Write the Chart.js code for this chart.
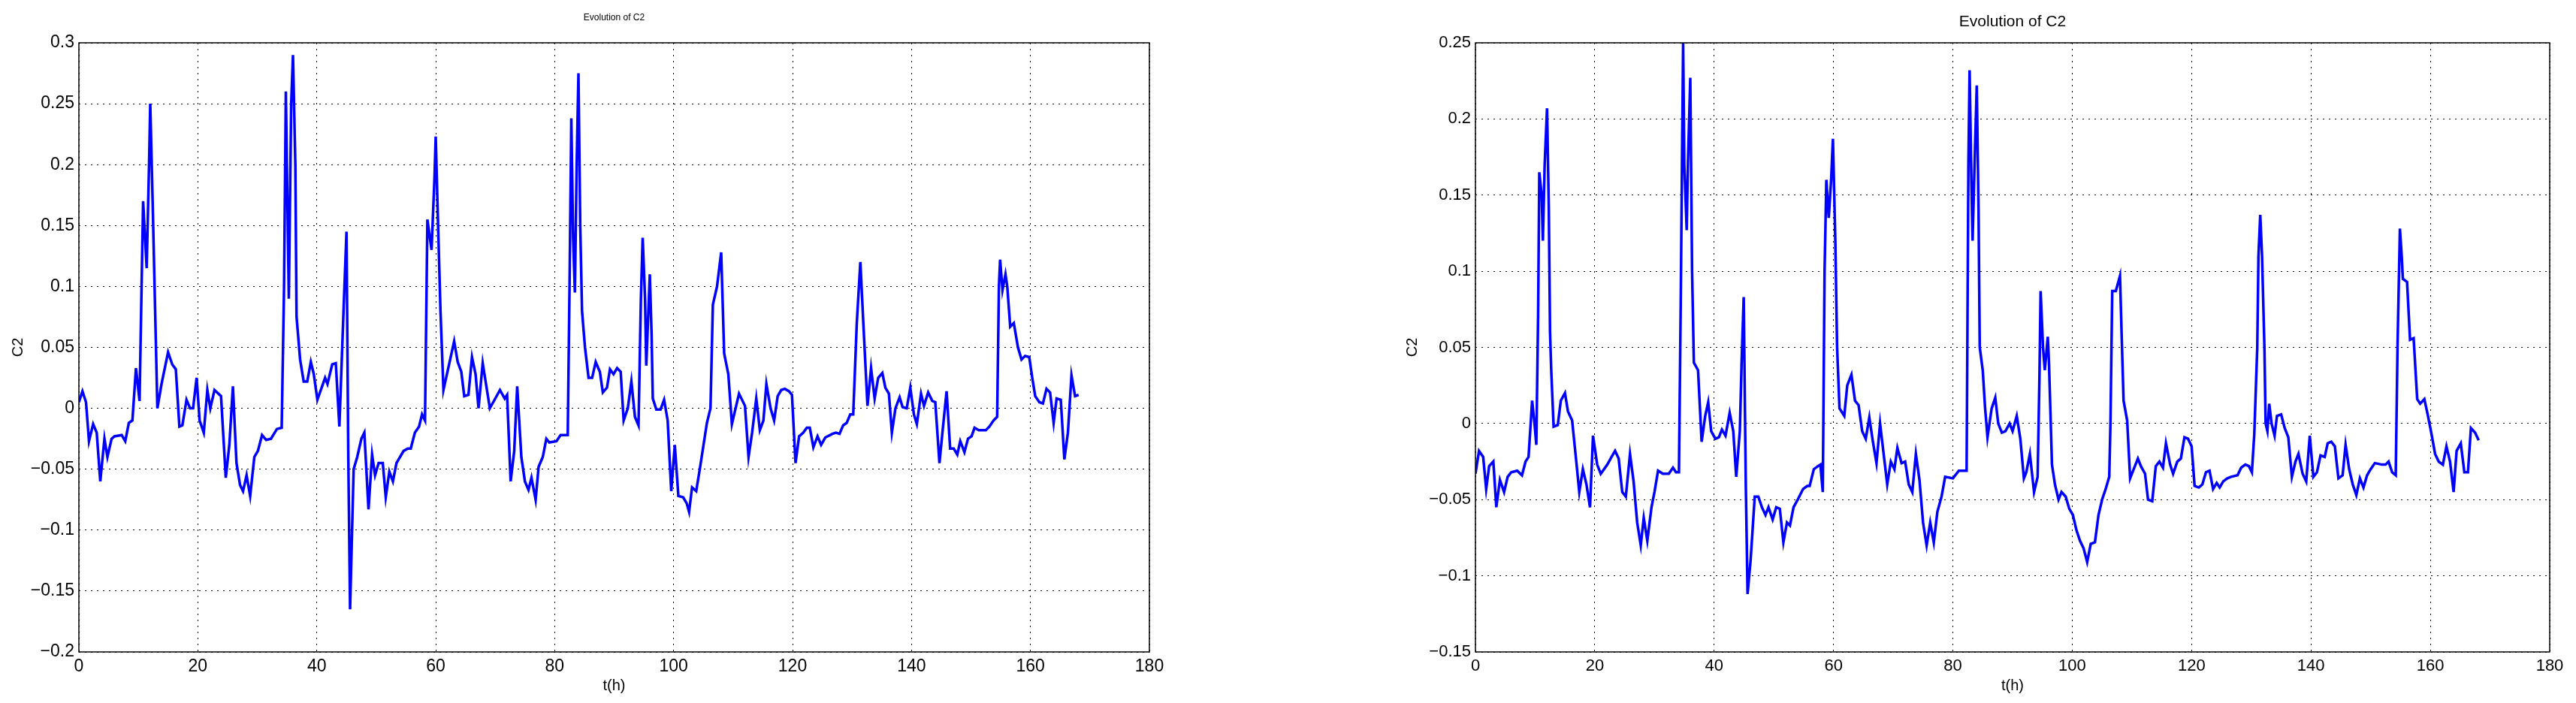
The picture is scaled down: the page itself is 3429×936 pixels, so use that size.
<!DOCTYPE html>
<html><head><meta charset="utf-8">
<script src="https://cdn.jsdelivr.net/npm/chart.js@4"></script>
<style>html,body{margin:0;padding:0;background:#fff;width:3429px;height:936px;overflow:hidden}
.w{position:absolute;top:0;height:936px}</style></head><body>
<div class="w" style="left:0;width:1714px"><canvas id="c1"></canvas></div>
<div class="w" style="left:1714px;width:1715px"><canvas id="c2"></canvas></div>
<script>
const xTicks=[0,20,40,60,80,100,120,140,160,180];
const leftYTicks=[-0.2,-0.15,-0.1,-0.05,0,0.05,0.1,0.15,0.2,0.25,0.3];
const rightYTicks=[-0.15,-0.1,-0.05,0,0.05,0.1,0.15,0.2,0.25];
const tLeft=[0,0.6,1.2,1.7,2.4,3.0,3.6,4.3,4.8,5.5,6,7.2,7.8,8.4,9,9.6,10.2,10.8,11.4,11.8,12,12.4,13.2,13.9,15,15.7,16.3,16.9,17.4,18.1,18.7,19.2,19.8,20.3,21,21.6,22.1,22.8,23.9,24.7,25.3,25.9,26.5,27.1,27.6,28.2,28.8,29.5,30.1,30.8,31.5,32.3,33.3,34.1,34.5,34.8,35.3,35.7,36,36.4,36.6,37.2,37.8,38.4,39,39.5,40.1,41.4,41.8,42.6,43.2,43.8,44.5,45,45.3,45.6,46.2,46.8,47.5,48,48.7,49.3,49.8,50.4,51.1,51.6,52.2,52.8,53.4,54.6,55.3,55.8,56.5,57.2,57.7,58.2,58.6,59.3,59.8,60,60.4,60.8,61.3,62.2,63.1,63.7,64.3,64.8,65.5,66.1,66.7,67.2,67.9,69.1,69.9,70.8,71.6,72,72.6,73.2,73.7,74.4,75,75.6,76.1,76.8,77.3,78,78.6,79.1,80.3,81,82.2,82.5,82.8,83.1,83.4,83.7,84,84.3,84.6,85.1,85.7,86.3,86.9,87.6,88.1,88.8,89.3,89.9,90.5,91.1,91.6,92.3,92.9,93.5,94.1,94.5,94.8,95.2,95.4,96,96.3,96.5,97.1,97.8,98.4,99,99.6,100.2,100.8,101.6,102.2,102.6,103.1,103.8,104.4,105.6,106.2,106.6,107.3,108,108.5,109.2,109.8,111,112,112.6,113.2,113.9,114.5,115.1,115.6,116.3,116.9,117.5,118.1,118.7,119.4,119.9,120.5,121.1,121.8,122.4,122.9,123.5,124.2,124.8,125.5,126.7,127.3,127.9,128.5,129.1,129.7,130.2,130.8,131.4,131.9,132.6,133.2,133.8,134.4,135.1,135.6,136.2,136.7,137.3,138,138.5,139.2,139.8,140.4,140.9,141.6,142.1,142.8,143.5,144,144.7,145.2,145.9,146.5,147.1,147.7,148.2,148.9,149.5,150.1,150.6,151.3,152.5,153.1,153.8,154.4,154.7,154.9,155.3,155.8,156.1,156.6,157.2,157.9,158.5,159.1,159.8,160.3,160.8,161.5,162.1,162.7,163.3,163.9,164.4,165.1,165.7,166.3,166.9,167.5,168.1];
const vLeft=[0.005,0.014,0.005,-0.027,-0.013,-0.02,-0.06,-0.025,-0.04,-0.025,-0.023,-0.022,-0.027,-0.012,-0.01,0.033,0.006,0.17,0.115,0.2,0.25,0.17,0.0,0.02,0.046,0.036,0.032,-0.015,-0.014,0.007,0.0,0.0,0.025,-0.01,-0.02,0.015,0.0,0.015,0.01,-0.057,-0.03,0.018,-0.045,-0.063,-0.068,-0.055,-0.072,-0.04,-0.035,-0.022,-0.026,-0.025,-0.017,-0.016,0.1,0.26,0.09,0.25,0.29,0.2,0.075,0.04,0.022,0.022,0.038,0.028,0.007,0.025,0.02,0.036,0.037,-0.015,0.08,0.145,-0.04,-0.165,-0.05,-0.04,-0.025,-0.02,-0.083,-0.038,-0.055,-0.045,-0.045,-0.073,-0.052,-0.06,-0.045,-0.035,-0.033,-0.033,-0.02,-0.015,-0.005,-0.01,0.155,0.13,0.19,0.223,0.15,0.08,0.015,0.035,0.055,0.038,0.03,0.01,0.011,0.042,0.028,0.0,0.037,0.0,0.007,0.015,0.008,0.011,-0.06,-0.035,0.018,-0.04,-0.06,-0.067,-0.057,-0.075,-0.048,-0.04,-0.025,-0.028,-0.027,-0.022,-0.022,0.1,0.238,0.14,0.095,0.2,0.275,0.15,0.08,0.05,0.025,0.025,0.038,0.03,0.013,0.017,0.032,0.028,0.033,0.03,-0.01,0.0,0.022,-0.007,-0.014,0.09,0.14,0.09,0.035,0.11,0.06,0.008,-0.001,-0.001,0.007,-0.01,-0.068,-0.03,-0.072,-0.073,-0.078,-0.085,-0.065,-0.068,-0.05,-0.012,0.0,0.085,0.1,0.128,0.045,0.028,-0.013,0.012,0.002,-0.04,-0.02,0.008,-0.018,-0.01,0.02,0.0,-0.01,0.01,0.015,0.016,0.014,0.011,-0.045,-0.023,-0.02,-0.016,-0.016,-0.032,-0.023,-0.03,-0.024,-0.021,-0.02,-0.021,-0.014,-0.012,-0.005,-0.005,0.07,0.12,0.07,0.002,0.033,0.008,0.025,0.029,0.017,0.012,-0.02,0.0,0.009,0.001,0.0,0.017,-0.005,-0.013,0.012,0.002,0.013,0.006,0.005,-0.045,-0.02,0.014,-0.033,-0.033,-0.038,-0.027,-0.036,-0.025,-0.023,-0.016,-0.018,-0.018,-0.015,-0.01,-0.007,0.1,0.122,0.097,0.11,0.1,0.067,0.07,0.05,0.04,0.043,0.042,0.025,0.01,0.005,0.004,0.016,0.013,-0.012,0.008,0.007,-0.042,-0.02,0.027,0.01,0.011];
const tRight=[0,0.6,1.3,1.8,2.3,3,3.5,4.1,4.8,5.4,6,7,7.8,8.4,8.9,9.5,9.9,10.2,10.5,10.7,11.1,11.3,11.6,12,12.3,12.5,12.7,13.1,13.8,14.3,15,15.5,16.2,16.9,17.4,18,18.6,19.2,19.7,20.4,21,22.1,22.8,23.4,24,24.6,25.2,25.9,26.5,27.1,27.7,28.2,28.8,29.5,30,30.6,31.4,32.4,33.1,33.6,34.1,34.4,34.8,35,35.4,35.6,36,36.3,36.6,37.3,37.9,38.5,39,39.5,40.2,40.8,41.3,41.9,42.6,43.2,43.7,44.3,44.6,44.95,45.3,45.6,46.1,46.8,47.4,48,48.6,49.1,49.8,50.4,51,51.6,52.2,52.7,53.3,54,54.9,55.6,56,56.7,57.4,57.8,58.2,58.5,58.8,59.2,59.6,59.9,60.3,60.6,61,61.8,62.3,63,63.6,64.2,64.8,65.4,66,66.6,67.2,67.8,68.4,69,69.6,70.2,70.7,71.4,72,72.6,73.2,73.8,74.4,75,75.6,76.2,76.8,77.4,78.1,78.7,80,81,82.3,82.6,82.8,83.1,83.3,83.7,84,84.3,84.5,85,85.4,85.8,86.5,87.1,87.6,88.2,88.8,89.5,90,90.7,91.3,91.9,92.3,92.9,93.6,94.2,94.5,94.7,95.1,95.4,95.9,96.1,96.6,97.1,97.7,98.2,98.9,99.5,100.1,100.7,101.3,101.9,102.5,103.1,103.8,104.4,105,105.6,106.2,106.4,106.7,107.3,108,108.3,108.6,109.2,109.7,110.3,111,111.5,112.2,112.7,113.4,114,114.6,115.2,115.7,116.4,116.9,117.6,118.2,118.8,119.4,120,120.5,121.2,121.8,122.4,123,123.6,124.2,124.7,125.3,126,126.6,127.7,128.3,129,129.6,130.1,130.5,131,131.2,131.5,131.8,132.2,132.4,132.7,133,133.4,133.9,134.3,135,135.6,136.2,136.8,137.4,137.9,138.6,139.2,139.8,140.4,141,141.6,142.3,142.8,143.4,144,144.6,145.3,145.8,146.4,147,147.6,148.2,148.8,149.4,150,150.7,151.9,152.5,153,153.6,154.2,154.5,154.9,155.2,155.4,156.1,156.6,157.2,157.8,158.3,159,159.6,160.2,160.8,161.4,162.1,162.7,163.3,163.9,164.4,165.1,165.7,166.3,166.8,167.5,168.1];
const vRight=[-0.033,-0.018,-0.022,-0.043,-0.028,-0.025,-0.055,-0.037,-0.045,-0.035,-0.032,-0.031,-0.034,-0.025,-0.022,0.015,0.0,-0.014,0.07,0.165,0.15,0.12,0.17,0.207,0.14,0.06,0.035,-0.002,-0.001,0.015,0.02,0.008,0.002,-0.025,-0.045,-0.03,-0.04,-0.055,-0.008,-0.027,-0.033,-0.027,-0.022,-0.018,-0.023,-0.045,-0.048,-0.02,-0.038,-0.065,-0.08,-0.062,-0.077,-0.055,-0.045,-0.031,-0.033,-0.033,-0.029,-0.032,-0.032,0.08,0.25,0.17,0.127,0.17,0.227,0.1,0.04,0.035,-0.012,0.005,0.014,-0.005,-0.01,-0.009,-0.004,-0.008,0.007,-0.005,-0.035,-0.005,0.04,0.083,-0.04,-0.112,-0.09,-0.048,-0.048,-0.055,-0.06,-0.055,-0.063,-0.055,-0.056,-0.078,-0.065,-0.067,-0.055,-0.05,-0.043,-0.041,-0.041,-0.03,-0.028,-0.027,-0.045,0.1,0.16,0.135,0.16,0.187,0.12,0.05,0.01,0.005,0.025,0.032,0.015,0.012,-0.005,-0.01,0.004,-0.012,-0.026,0.0,-0.02,-0.04,-0.025,-0.03,-0.016,-0.026,-0.025,-0.04,-0.045,-0.02,-0.037,-0.065,-0.08,-0.065,-0.078,-0.058,-0.048,-0.035,-0.036,-0.031,-0.031,0.17,0.232,0.16,0.12,0.18,0.222,0.14,0.05,0.035,0.01,-0.009,0.01,0.017,0.0,-0.006,-0.005,0.0,-0.005,0.005,-0.01,-0.036,-0.032,-0.02,-0.045,-0.035,0.03,0.087,0.05,0.035,0.057,0.04,-0.027,-0.04,-0.05,-0.045,-0.048,-0.056,-0.06,-0.07,-0.077,-0.082,-0.091,-0.079,-0.078,-0.06,-0.05,-0.043,-0.035,0.0,0.087,0.087,0.097,0.055,0.015,0.002,-0.036,-0.03,-0.023,-0.028,-0.033,-0.05,-0.051,-0.028,-0.025,-0.029,-0.013,-0.027,-0.033,-0.025,-0.023,-0.009,-0.01,-0.015,-0.041,-0.042,-0.04,-0.032,-0.031,-0.043,-0.039,-0.042,-0.038,-0.036,-0.035,-0.034,-0.029,-0.027,-0.028,-0.032,-0.007,0.05,0.11,0.137,0.11,0.05,0.0,-0.005,0.013,0.0,-0.008,0.005,0.006,-0.003,-0.009,-0.035,-0.025,-0.02,-0.033,-0.038,-0.008,-0.035,-0.032,-0.021,-0.022,-0.013,-0.012,-0.015,-0.036,-0.034,-0.014,-0.03,-0.04,-0.047,-0.036,-0.042,-0.034,-0.03,-0.026,-0.027,-0.027,-0.025,-0.032,-0.034,0.05,0.128,0.11,0.095,0.093,0.055,0.056,0.016,0.013,0.016,0.005,-0.007,-0.02,-0.025,-0.027,-0.015,-0.025,-0.045,-0.018,-0.013,-0.032,-0.032,-0.003,-0.006,-0.011];

const FONT='"Liberation Sans", Arial, sans-serif';
function fmt(v){const r=Math.round(v*100)/100;const s=String(Math.abs(r));return r<0?'\u2212'+s:s;}
function mk(id,t,v,yTicks,o){
  const txt={id:'txt',afterDraw(ch){const c=ch.ctx,a=ch.chartArea;c.save();
    c.strokeStyle='#000';c.lineWidth=1.5;c.strokeRect(a.left,a.top,a.right-a.left,a.bottom-a.top);
    c.fillStyle='#000';c.textAlign='center';c.textBaseline='alphabetic';
    c.font=o.titleSize+'px '+FONT;c.fillText('Evolution of C2',(a.left+a.right)/2,a.top-o.titleGap);
    c.font='20px '+FONT;c.fillText('t(h)',(a.left+a.right)/2,a.bottom+51);
    c.translate(o.ylabX,(a.top+a.bottom)/2);c.rotate(-Math.PI/2);c.textBaseline='middle';c.fillText('C2',0,0);
    c.restore();}};
  return new Chart(document.getElementById(id),{type:'line',
    data:{datasets:[{data:t.map((x,i)=>({x,y:v[i]})),borderColor:'#0000ff',borderWidth:3.5,pointRadius:0,tension:0,fill:false}]},
    options:{responsive:true,maintainAspectRatio:false,animation:false,events:[],
      layout:{padding:{top:57,right:o.padR,left:0,bottom:0}},
      plugins:{legend:{display:false},tooltip:{enabled:false}},
      scales:{
        x:{type:'linear',min:0,max:180,afterBuildTicks(s){s.ticks=xTicks.map(x=>({value:x}));},
          afterFit(s){s.height=68;},
          grid:{color:'#000',lineWidth:1,tickLength:0,drawTicks:false},border:{display:false,dash:[2,6]},
          ticks:{color:'#000',font:{family:FONT,size:o.tickSize},padding:6,maxRotation:0}},
        y:{type:'linear',min:yTicks[0],max:yTicks[yTicks.length-1],afterBuildTicks(s){s.ticks=yTicks.map(x=>({value:x}));},
          afterFit(s){s.width=o.yW;},
          grid:{color:'#000',lineWidth:1,drawTicks:false},border:{display:false,dash:[2,6]},
          ticks:{color:'#000',font:{family:FONT,size:o.tickSize},padding:6,callback:fmt}}
      }},plugins:[txt]});
}
Chart.defaults.scale.grid.borderDash=[2,6];
mk('c1',tLeft,vLeft,leftYTicks,{padR:184,yW:105,tickSize:23,titleSize:12,titleGap:30,ylabX:24});
mk('c2',tRight,vRight,rightYTicks,{padR:35,yW:250,tickSize:22,titleSize:21,titleGap:22,ylabX:166});
</script></body></html>
